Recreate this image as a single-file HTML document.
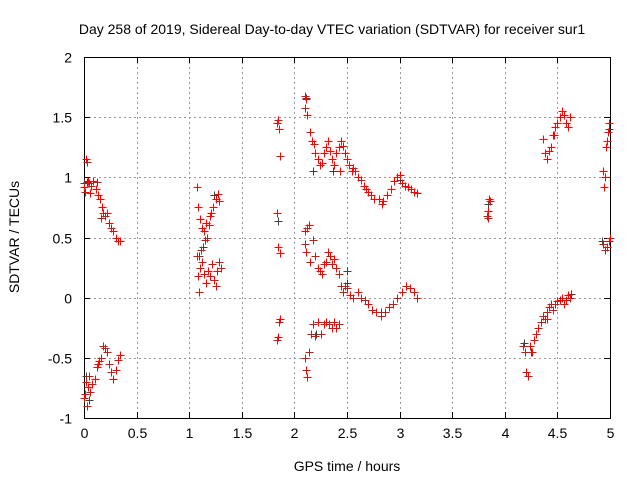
<!DOCTYPE html>
<html><head><meta charset="utf-8"><style>
body{margin:0;background:#fff}
svg{display:block;font-family:"Liberation Sans",sans-serif}
</style></head><body>
<svg id="c" width="640" height="480">
<rect width="640" height="480" fill="#fff"/>
<g id="grid" shape-rendering="crispEdges"></g>
<rect x="84.5" y="57.5" width="526" height="361" fill="none" stroke="#000" stroke-width="1" shape-rendering="crispEdges"/>
<g id="ticks" shape-rendering="crispEdges"></g>
<g id="pts" shape-rendering="crispEdges"></g>
<text x="332" y="34" font-size="14" text-anchor="middle">Day 258 of 2019, Sidereal Day-to-day VTEC variation (SDTVAR) for receiver sur1</text>
<text x="347" y="471" font-size="14" text-anchor="middle">GPS time / hours</text>
<text x="19" y="237" font-size="14" text-anchor="middle" transform="rotate(-90 19 237)">SDTVAR / TECUs</text>
</svg>
<script>
const xTicks=[0,0.5,1,1.5,2,2.5,3,3.5,4,4.5,5];
const xTickLabels=["0","0.5","1","1.5","2","2.5","3","3.5","4","4.5","5"];
const yTicks=[-1,-0.5,0,0.5,1,1.5,2];
const yTickLabels=["-1","-0.5","0","0.5","1","1.5","2"];
const redX=[0.0,0.01,0.02,0.03,0.04,0.05,0.07,0.09,0.11,0.13,0.15,0.17,0.18,0.2,0.22,0.24,0.26,0.28,0.3,0.32,0.34,0.12,0.06,0.16,
0.0,0.01,0.02,0.03,0.05,0.06,0.08,0.1,0.12,0.14,0.16,0.18,0.2,0.22,0.24,0.26,0.28,0.3,0.32,0.34,0.13,0.04,
1.07,1.08,1.1,1.12,1.14,1.15,1.17,1.19,1.21,1.23,1.25,1.27,1.28,1.2,1.16,
1.07,1.08,1.1,1.12,1.14,1.16,1.18,1.2,1.22,1.24,1.26,1.28,1.3,1.09,1.11,1.25,
1.83,1.84,1.85,1.86,1.83,1.84,1.86,1.83,1.84,1.85,1.86,
2.1,2.11,2.1,2.12,2.15,2.17,2.19,2.2,2.22,2.24,2.26,2.28,2.3,2.32,2.34,2.36,2.38,2.4,2.42,2.44,2.46,2.48,2.5,2.52,2.55,2.58,2.6,2.63,2.66,2.68,2.7,2.73,2.76,2.8,2.84,2.88,2.92,2.95,2.98,3.0,3.02,3.05,3.08,3.11,3.14,3.17,2.43,2.83,2.56,
2.1,2.12,2.14,2.1,2.11,2.15,2.18,2.2,2.22,2.24,2.26,2.28,2.3,2.32,2.34,2.36,2.38,2.4,2.42,2.44,2.46,2.48,2.5,2.53,2.56,2.6,2.63,2.67,2.7,2.74,2.78,2.82,2.86,2.9,2.94,2.98,3.02,3.06,3.1,3.14,3.17,
2.1,2.11,2.12,2.14,2.16,2.18,2.2,2.22,2.25,2.28,2.3,2.33,2.36,2.38,2.4,2.42,
3.83,3.84,3.85,3.86,3.84,
4.36,4.38,4.4,4.42,4.44,4.46,4.48,4.5,4.52,4.54,4.56,4.58,4.6,4.62,4.47,
4.17,4.19,4.2,4.22,4.24,4.26,4.28,4.3,4.32,4.34,4.36,4.38,4.4,4.42,4.44,4.46,4.48,4.5,4.52,4.54,4.56,4.58,4.6,4.62,4.4,
4.93,4.94,4.95,4.96,4.97,4.98,4.99,4.93,4.95,4.97,4.99,5.0];
const redY=[0.92,0.88,1.15,1.13,0.97,0.95,0.93,0.97,0.9,0.85,0.82,0.75,0.7,0.68,0.7,0.62,0.58,0.55,0.5,0.47,0.47,0.96,0.87,0.66,
-0.83,-0.8,-0.7,-0.9,-0.65,-0.78,-0.72,-0.68,-0.58,-0.53,-0.5,-0.4,-0.42,-0.45,-0.55,-0.62,-0.68,-0.6,-0.52,-0.48,-0.55,-0.74,
0.92,0.75,0.65,0.58,0.55,0.48,0.5,0.6,0.7,0.75,0.82,0.86,0.8,0.68,0.62,
0.35,0.18,0.25,0.3,0.2,0.12,0.22,0.18,0.28,0.15,0.22,0.3,0.25,0.05,0.4,0.1,
1.45,1.48,1.4,1.18,0.7,0.42,0.37,-0.35,-0.33,-0.2,-0.18,
1.68,1.65,1.58,1.52,1.38,1.3,1.28,1.2,1.15,1.1,1.12,1.2,1.25,1.3,1.22,1.15,1.1,1.2,1.25,1.3,1.26,1.2,1.15,1.1,1.05,1.05,1.0,0.98,0.93,0.9,0.88,0.85,0.82,0.82,0.8,0.85,0.9,0.97,1.0,1.02,0.95,0.93,0.92,0.9,0.88,0.87,1.05,0.78,1.08,
0.55,0.58,0.6,0.45,0.38,0.3,0.48,0.35,0.25,0.22,0.2,0.28,0.3,0.38,0.35,0.28,0.32,0.25,0.2,0.1,0.05,0.1,0.08,0.02,0.0,0.05,0.0,-0.02,-0.05,-0.1,-0.12,-0.15,-0.12,-0.08,-0.05,0.0,0.05,0.1,0.08,0.05,0.0,
-0.5,-0.6,-0.66,-0.45,-0.3,-0.22,-0.32,-0.2,-0.3,-0.22,-0.2,-0.22,-0.25,-0.2,-0.25,-0.22,
0.68,0.72,0.82,0.8,0.66,
1.32,1.2,1.15,1.22,1.25,1.35,1.42,1.45,1.5,1.55,1.52,1.45,1.42,1.5,1.35,
-0.4,-0.45,-0.62,-0.65,-0.4,-0.45,-0.35,-0.3,-0.25,-0.2,-0.15,-0.18,-0.12,-0.08,-0.05,-0.1,-0.05,-0.03,-0.02,0.0,-0.05,-0.02,0.02,0.0,-0.18,
1.05,0.92,1.0,1.25,1.3,1.38,1.45,0.45,0.4,0.42,0.47,0.5];
const blackX=[0.0,0.02,0.05,0.03,1.09,1.13,1.24,1.84,1.85,2.11,2.18,2.37,2.5,2.82,3.0,2.21,2.5,4.18,4.25,4.63,4.92,4.99,3.84];
const blackY=[0.95,-0.65,-0.85,0.96,0.35,0.42,0.85,0.64,-0.2,1.66,1.05,1.05,0.12,-0.12,0.98,-0.3,0.22,-0.38,-0.45,0.03,0.47,1.4,0.78];

const L=84,R=610,T=57,B=418;
const sx=v=>L+(v-0)/(5-0)*(R-L);
const sy=v=>B-(v+1)/(2+1)*(B-T);
const NS="http://www.w3.org/2000/svg";
function mk(tag,attrs,parent){const e=document.createElementNS(NS,tag);for(const k in attrs)e.setAttribute(k,attrs[k]);parent.appendChild(e);return e;}
const grid=document.getElementById('grid'),ticks=document.getElementById('ticks'),pts=document.getElementById('pts');
xTicks.forEach((v,i)=>{
  const x=Math.round(sx(v))+0.5;
  if(i>0&&i<xTicks.length-1){const g=mk('line',{x1:x,x2:x,y1:T,y2:B,stroke:'#999','stroke-dasharray':'2,3'},grid);
  
  }
  mk('line',{x1:x,x2:x,y1:B,y2:B-6,stroke:'#000'},ticks);
  mk('line',{x1:x,x2:x,y1:T,y2:T+6,stroke:'#000'},ticks);
  const t=mk('text',{x:x,y:B+20,'font-size':14,'text-anchor':'middle'},ticks);t.textContent=xTickLabels[i];
  
  
});
yTicks.forEach((v,i)=>{
  const y=Math.round(sy(v))+0.5;
  if(i>0&&i<yTicks.length-1){const g=mk('line',{x1:L,x2:R,y1:y,y2:y,stroke:'#999','stroke-dasharray':'2,3'},grid);
  
  }
  mk('line',{x1:L,x2:L+6,y1:y,y2:y,stroke:'#000'},ticks);
  mk('line',{x1:R,x2:R-6,y1:y,y2:y,stroke:'#000'},ticks);
  const t=mk('text',{x:L-12,y:y+5,'font-size':14,'text-anchor':'end'},ticks);t.textContent=yTickLabels[i];
  
  
});
function plus(xs,ys,color,name){
  let d='';
  xs.forEach((v,i)=>{const x=Math.round(sx(v))+0.5,y=Math.round(sy(ys[i]))+0.5;d+=`M${x-4},${y}h8M${x},${y-4}v8`;});
  const p=mk('path',{d:d,stroke:color,'stroke-width':1,fill:'none'},pts);
  
  
}
plus(blackX,blackY,'#404040','series-black-points');
plus(redX,redY,'#ff0000','series-red-points');
</script>
</body></html>
